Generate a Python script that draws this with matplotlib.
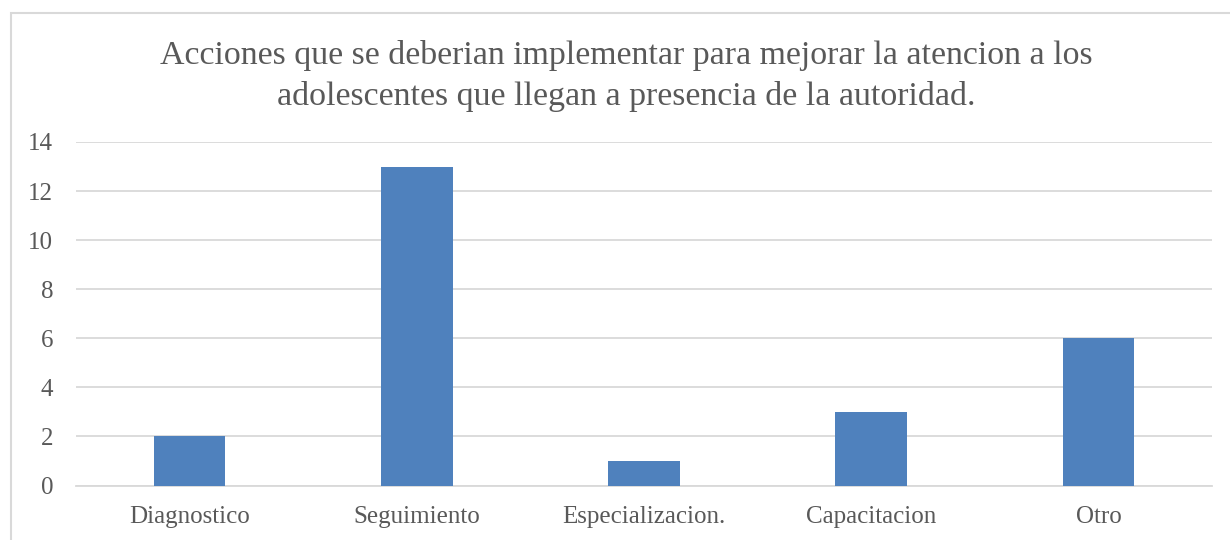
import matplotlib.pyplot as plt
from matplotlib.patches import Rectangle

categorias = ['Diagnostico', 'Seguimiento', 'Especializacion.', 'Capacitacion', 'Otro']
valores = [2, 13, 1, 3, 6]
y_ticks = [0, 2, 4, 6, 8, 10, 12, 14]

texto_color = '#595959'
grid_color = '#D9D9D9'
bar_color = '#4F81BD'

plt.rcParams['font.family'] = ['Liberation Serif', 'DejaVu Serif']

fig = plt.figure(figsize=(12.3, 5.4), dpi=100)
# marco del grafico (recortado a la derecha y abajo)
fig.patches.append(Rectangle((11/1230, -0.1), 1.2, 1 - 13/540 + 0.1,
                             transform=fig.transFigure, fill=False,
                             edgecolor=grid_color, linewidth=1.5))

ax = fig.add_axes([76/1230, 1 - 485.5/540, (1212 - 76)/1230, (485.5 - 142)/540])
x = range(len(categorias))
ax.bar(x, valores, width=0.315, color=bar_color, zorder=3)
ax.set_xlim(-0.5, len(categorias) - 0.5)
ax.set_ylim(0, 14)
ax.set_yticks(y_ticks)
ax.set_xticks(list(x))
ax.set_xticklabels(categorias)
ax.yaxis.grid(True, color=grid_color, linewidth=1.3, zorder=0)
for s in ['top', 'right', 'left']:
    ax.spines[s].set_visible(False)
ax.spines['bottom'].set_color(grid_color)
ax.spines['bottom'].set_linewidth(1.3)
ax.tick_params(axis='both', length=0, colors=texto_color, labelsize=18)
ax.tick_params(axis='y', pad=16.5)
ax.tick_params(axis='x', pad=15)

fig.text(626/1230, 1 - 76/540,
         'Acciones que se deberian implementar para mejorar la atencion a los\n'
         'adolescentes que llegan a presencia de la autoridad.',
         ha='center', va='center', fontsize=24.4, color=texto_color, linespacing=1.4)

fig.savefig('out.png', dpi=100)
